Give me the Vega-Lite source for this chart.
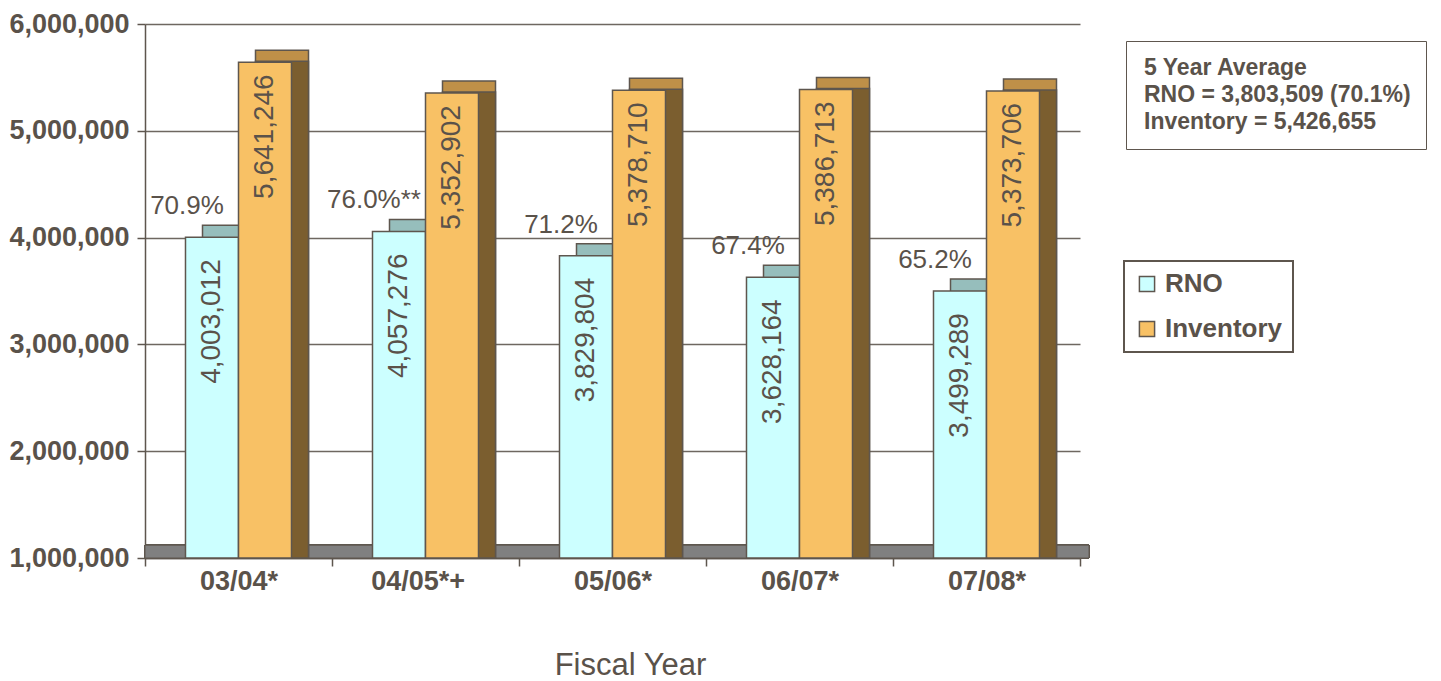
{
  "$schema": "https://vega.github.io/schema/vega-lite/v6.json",
  "width": 935,
  "height": 534,
  "autosize": {"type": "none"},
  "padding": {"left": 145, "top": 24, "right": 361, "bottom": 123},
  "background": "white",
  "config": {"view": {"stroke": null}, "font": "Liberation Sans"},
  "datasets": {
    "bars": [
      {"year": "03/04*", "series": "RNO", "value": 4003012, "label": "4,003,012", "pct": "70.9%"},
      {"year": "03/04*", "series": "Inventory", "value": 5641246, "label": "5,641,246"},
      {"year": "04/05*+", "series": "RNO", "value": 4057276, "label": "4,057,276", "pct": "76.0%**"},
      {"year": "04/05*+", "series": "Inventory", "value": 5352902, "label": "5,352,902"},
      {"year": "05/06*", "series": "RNO", "value": 3829804, "label": "3,829,804", "pct": "71.2%"},
      {"year": "05/06*", "series": "Inventory", "value": 5378710, "label": "5,378,710"},
      {"year": "06/07*", "series": "RNO", "value": 3628164, "label": "3,628,164", "pct": "67.4%"},
      {"year": "06/07*", "series": "Inventory", "value": 5386713, "label": "5,386,713"},
      {"year": "07/08*", "series": "RNO", "value": 3499289, "label": "3,499,289", "pct": "65.2%"},
      {"year": "07/08*", "series": "Inventory", "value": 5373706, "label": "5,373,706"}
    ],
    "avg": [
      {"line": "5 Year Average"},
      {"line": "RNO = 3,803,509 (70.1%)"},
      {"line": "Inventory = 5,426,655"}
    ]
  },
  "layer": [
    {
      "data": {"name": "bars"},
      "mark": {"type": "rect", "color": "#808080", "xOffset": 9, "stroke": "#5E564E", "strokeWidth": 1},
      "encoding": {
        "y": {"datum": 1000000, "type": "quantitative", "scale": {"domain": [1000000, 6000000]},
          "axis": {
            "values": [1000000, 2000000, 3000000, 4000000, 5000000, 6000000],
            "format": ",d",
            "title": null,
            "labelFont": "Liberation Sans",
            "labelFontSize": 27,
            "labelFontWeight": "bold",
            "labelColor": "#5A524A",
            "labelPadding": 8,
            "tickSize": 8,
            "tickColor": "#5E564E",
            "tickWidth": 1.5,
            "domainColor": "#5E564E",
            "domainWidth": 1.5,
            "grid": true,
            "gridColor": "#6E6760",
            "gridWidth": 1.5
          }
        },
        "y2": {"datum": 1120000}
      }
    },
    {
      "data": {"name": "bars"},
      "transform": [{"filter": "datum.series === 'RNO'"}],
      "mark": {"type": "bar", "color": "#96BEBC", "stroke": "#5E564E", "strokeWidth": 1.5, "width": 53, "xOffset": -9.5, "yOffset": -12},
      "encoding": {
        "x": {"field": "year", "type": "nominal", "sort": null},
        "y": {"field": "value", "type": "quantitative"},
        "y2": {"datum": 1000000}
      }
    },
    {
      "data": {"name": "bars"},
      "transform": [{"filter": "datum.series === 'Inventory'"}],
      "mark": {"type": "bar", "color": "#BF9048", "stroke": "#5E564E", "strokeWidth": 1.5, "width": 53, "xOffset": 43.5, "yOffset": -12},
      "encoding": {
        "x": {"field": "year", "type": "nominal", "sort": null},
        "y": {"field": "value", "type": "quantitative"},
        "y2": {"datum": 1000000}
      }
    },
    {
      "data": {"name": "bars"},
      "transform": [{"filter": "datum.series === 'Inventory'"}],
      "mark": {"type": "bar", "color": "#7B5E2F", "stroke": "#5E564E", "strokeWidth": 1.5, "width": 53, "xOffset": 43.5, "yOffset": -1},
      "encoding": {
        "x": {"field": "year", "type": "nominal", "sort": null},
        "y": {"field": "value", "type": "quantitative"},
        "y2": {"datum": 1000000}
      }
    },
    {
      "data": {"name": "bars"},
      "mark": {"type": "bar", "stroke": "#5E564E", "strokeWidth": 1.5, "opacity": 1},
      "encoding": {
        "x": {
          "field": "year", "type": "nominal", "sort": null,
          "scale": {"paddingInner": 0, "paddingOuter": 0},
          "axis": {
            "title": "Fiscal Year",
            "titleFont": "Liberation Sans",
            "titleFontSize": 31,
            "titleFontWeight": "normal",
            "titleColor": "#5A524A",
            "titleX": 485,
            "titleY": 116,
            "titleAlign": "center",
            "titleBaseline": "alphabetic",
            "labelAngle": 0,
            "labelFont": "Liberation Sans",
            "labelFontSize": 27,
            "labelFontWeight": "bold",
            "labelColor": "#5A524A",
            "labelPadding": 15,
            "labelOffset": 39,
            "tickSize": 8,
            "tickBand": "extent",
            "tickColor": "#5E564E",
            "tickWidth": 1.5,
            "domainColor": "#5E564E",
            "domainWidth": 1.5,
            "grid": false
          }
        },
        "xOffset": {"field": "series", "type": "nominal", "scale": {"domain": ["RNO", "Inventory"], "paddingInner": 0, "paddingOuter": 0.764}},
        "y": {"field": "value", "type": "quantitative"},
        "y2": {"datum": 1000000},
        "color": {
          "field": "series", "type": "nominal",
          "scale": {"domain": ["RNO", "Inventory"], "range": ["#CCFFFF", "#F8C165"]},
          "legend": {
            "orient": "none",
            "legendX": 979,
            "legendY": 237,
            "title": null,
            "symbolType": "square",
            "symbolSize": 230,
            "symbolStrokeColor": "#5E564E",
            "symbolStrokeWidth": 1.5,
            "symbolOpacity": 1,
            "labelFont": "Liberation Sans",
            "labelFontSize": 26,
            "labelFontWeight": "bold",
            "labelColor": "#5A524A",
            "labelOffset": 5,
            "strokeColor": "#5E564E",
            "padding": 10,
            "rowPadding": 19,
            "encode": {"legend": {"update": {"strokeWidth": {"value": 2}}}}
          }
        }
      }
    },
    {
      "data": {"name": "bars"},
      "transform": [{"filter": "datum.series === 'Inventory'"}],
      "mark": {"type": "text", "angle": 270, "align": "right", "baseline": "middle", "dx": -12, "fontSize": 28, "color": "#5A524A", "font": "Liberation Sans"},
      "encoding": {
        "x": {"field": "year", "type": "nominal", "sort": null},
        "xOffset": {"field": "series", "type": "nominal"},
        "y": {"field": "value", "type": "quantitative"},
        "text": {"field": "label"}
      }
    },
    {
      "data": {"name": "bars"},
      "transform": [{"filter": "datum.series === 'RNO'"}],
      "mark": {"type": "text", "angle": 270, "align": "right", "baseline": "middle", "dx": -22, "fontSize": 28, "color": "#5A524A", "font": "Liberation Sans"},
      "encoding": {
        "x": {"field": "year", "type": "nominal", "sort": null},
        "xOffset": {"field": "series", "type": "nominal"},
        "y": {"field": "value", "type": "quantitative"},
        "text": {"field": "label"}
      }
    },
    {
      "data": {"name": "bars"},
      "transform": [{"filter": "datum.series === 'RNO'"}],
      "mark": {"type": "text", "align": "center", "baseline": "alphabetic", "dx": -25, "dy": -23, "fontSize": 26, "color": "#5A524A", "font": "Liberation Sans"},
      "encoding": {
        "x": {"field": "year", "type": "nominal", "sort": null},
        "xOffset": {"field": "series", "type": "nominal"},
        "y": {"field": "value", "type": "quantitative"},
        "text": {"field": "pct"}
      }
    },
    {
      "data": {"name": "avg"},
      "mark": {"type": "point", "opacity": 0},
      "encoding": {
        "shape": {
          "field": "line", "type": "nominal",
          "scale": {"domain": ["5 Year Average", "RNO = 3,803,509 (70.1%)", "Inventory = 5,426,655"]},
          "legend": {
            "orient": "none",
            "legendX": 981,
            "legendY": 17,
            "title": null,
            "symbolSize": 0,
            "symbolOpacity": 0,
            "symbolStrokeWidth": 0,
            "labelOffset": -20,
            "labelFont": "Liberation Sans",
            "labelFontSize": 23,
            "labelFontWeight": "bold",
            "labelColor": "#5A524A",
            "labelLimit": 500,
            "strokeColor": "#5E564E",
            "padding": 15,
            "rowPadding": 3,
            "encode": {"legend": {"update": {"strokeWidth": {"value": 2}}}}
          }
        }
      }
    }
  ]
}
